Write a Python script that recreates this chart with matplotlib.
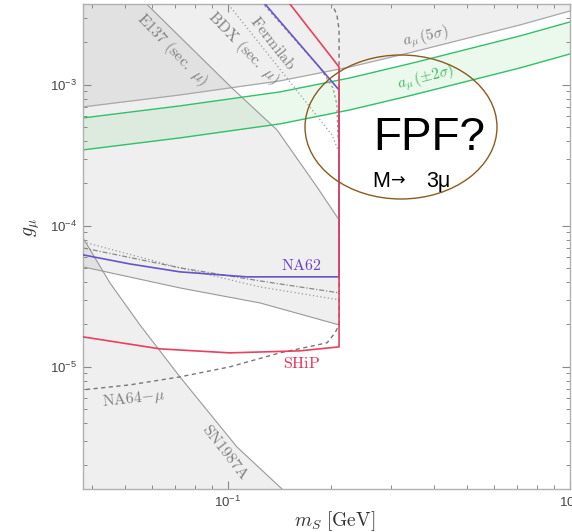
import matplotlib
matplotlib.use('Agg')
import matplotlib.pyplot as plt
from matplotlib.patches import Ellipse
from matplotlib.ticker import LogLocator, NullFormatter

plt.rcParams['font.family'] = ['Liberation Sans', 'DejaVu Sans']
plt.rcParams['mathtext.fontset'] = 'cm'

# ---------------- data (m_S in GeV, g_mu) ----------------
XLIM = (0.0377, 1.0)
YLIM = (1.36e-6, 3.75e-3)
M_THR = 0.2113  # 2 m_mu

# g-2 curves
amu_m = [0.0377, 0.0724, 0.1419, 0.2274, 0.3475, 0.7142, 1.0]
amu5_g = [6.98e-4, 8.49e-4, 1.068e-3, 1.341e-3, 1.714e-3, 2.664e-3, 3.347e-3]
band_hi = [5.83e-4, 7.10e-4, 8.92e-4, 1.121e-3, 1.432e-3, 2.226e-3, 2.797e-3]
band_lo = [3.46e-4, 4.21e-4, 5.29e-4, 6.65e-4, 8.49e-4, 1.320e-3, 1.659e-3]

# E137 (sec. mu) region boundaries
e137_up_m = [0.0575, 0.1034, 0.1391, 0.1821, M_THR]
e137_up_g = [3.8e-3, 9.37e-4, 4.80e-4, 1.890e-4, 1.103e-4]
e137_lo_m = [0.0377, 0.0724, 0.1241, M_THR]
e137_lo_g = [5.12e-5, 3.63e-5, 2.84e-5, 1.985e-5]

# SN1987A boundary
sn_m = [0.0377, 0.0452, 0.0553, 0.0724, 0.1062, 0.1448, 0.152]
sn_g = [8.22e-5, 3.94e-5, 1.985e-5, 8.49e-6, 2.707e-6, 1.341e-6, 1.2e-6]

# SHiP projection
ship_m = [0.1384, M_THR, M_THR, 0.1624, 0.1013, 0.0633, 0.0377]
ship_g = [5.0e-3, 1.341e-3, 1.386e-5, 1.299e-5, 1.257e-5, 1.342e-5, 1.632e-5]

# NA62 projection
na62_m = [0.1159, M_THR, M_THR, 0.1136, 0.0724, 0.0517, 0.0377]
na62_g = [5.0e-3, 9.21e-4, 4.35e-5, 4.35e-5, 4.72e-5, 5.37e-5, 6.23e-5]

# NA64-mu projection
na64_m = [0.200, 0.2083, M_THR, M_THR, 0.2056, 0.1948, 0.1419, 0.1013, 0.0724, 0.0517, 0.0377]
na64_g = [3.9e-3, 3.136e-3, 2.455e-3, 1.985e-5, 1.742e-5, 1.480e-5, 1.257e-5, 1.0e-5, 8.49e-6, 7.45e-6, 6.87e-6]

# BDX (sec. mu) and Fermilab projections
bdx_m = [0.0988, 0.1487, 0.2014, 0.2098]
bdx_g = [3.9e-3, 1.121e-3, 4.42e-4, 3.46e-4]
ferm_m = [0.125, 0.1858, 0.2028, 0.2083, 0.2098]
ferm_g = [3.9e-3, 1.320e-3, 9.52e-4, 7.21e-4, 4.07e-4]

# other low-mass projections
dot_m = [0.0377, 0.0724, 0.1241, M_THR]
dot_g = [7.70e-5, 5.04e-5, 3.69e-5, 2.99e-5]
dd_m = [0.0377, 0.0724, 0.1241, M_THR]
dd_g = [6.98e-5, 5.04e-5, 4.07e-5, 3.35e-5]

# ---------------- figure ----------------
fig = plt.figure(figsize=(5.72, 5.32), dpi=100)
ax = fig.add_axes([83/572, (532-489)/532, (570-83)/572, (489-4)/532])
ax.set_xscale('log')
ax.set_yscale('log')
ax.set_xlim(*XLIM)
ax.set_ylim(*YLIM)

GFC = (0.5, 0.5, 0.5)
GA = 0.12
EDGE = '#999999'

# a_mu 5 sigma excluded
ax.fill_between(amu_m, amu5_g, [1e-2]*len(amu_m), color=GFC, alpha=GA, lw=0, zorder=1)
ax.plot(amu_m, amu5_g, color='#a8a8a8', lw=0.9, zorder=2)

# E137 region
pm = [0.03, 0.0575] + e137_up_m + e137_lo_m[::-1] + [0.03]
pg = [1e-2, 1e-2] + e137_up_g + e137_lo_g[::-1] + [e137_lo_g[0]]
ax.fill(pm, pg, color=GFC, alpha=GA, lw=0, zorder=1)
ax.plot(e137_up_m, e137_up_g, color=EDGE, lw=0.8, zorder=2)
ax.plot(e137_lo_m, e137_lo_g, color=EDGE, lw=0.8, zorder=2)

# SN1987A region
sm = [0.03] + sn_m + [0.03]
sg = [sn_g[0]] + sn_g + [sn_g[-1]]
ax.fill(sm, sg, color=GFC, alpha=GA, lw=0, zorder=1)
ax.plot(sn_m, sn_g, color=EDGE, lw=0.8, zorder=2)

# g-2 band
ax.fill_between(amu_m, band_lo, band_hi, color='#5fd36f', alpha=0.13, lw=0, zorder=1.5)
ax.plot(amu_m, band_hi, color='#2fc06a', lw=1.0, zorder=2)
ax.plot(amu_m, band_lo, color='#2fc06a', lw=1.0, zorder=2)

# projections
ax.plot(bdx_m, bdx_g, color='#999999', lw=0.9, ls=(0, (1, 2)), zorder=2)
ax.plot(ferm_m, ferm_g, color='#999999', lw=0.9, ls=(0, (2, 2)), zorder=2)
ax.plot(dot_m, dot_g, color='#999999', lw=0.9, ls=(0, (1, 2)), zorder=2)
ax.plot(dd_m, dd_g, color='#888888', lw=0.9, ls=(0, (4, 1.5, 1, 1.5)), zorder=2)
ax.plot(na64_m, na64_g, color='#777777', lw=1.0, ls=(0, (3, 2.5)), zorder=2.5)
ax.plot(na62_m, na62_g, color='#6a52c8', lw=1.2, zorder=3)
ax.plot(ship_m, ship_g, color='#e8405e', lw=1.2, zorder=3.2)

# ---------------- axes styling ----------------
for s in ax.spines.values():
    s.set_color('#b0b0b0')
    s.set_linewidth(1.0)
ax.xaxis.set_minor_formatter(NullFormatter())
ax.yaxis.set_minor_formatter(NullFormatter())
ax.xaxis.set_minor_locator(LogLocator(base=10, subs=range(2, 10)))
ax.yaxis.set_minor_locator(LogLocator(base=10, subs=range(2, 10)))
ax.tick_params(which='both', direction='in', top=True, right=True,
               color='#888888', labelcolor='#444444', labelsize=9.5)
ax.tick_params(which='major', length=5.5, width=0.8, pad=4)
ax.tick_params(which='minor', length=3.2, width=0.7)

# ---------------- labels ----------------
def px(xp, yp):
    return ((xp - 83) / 487, (489 - yp) / 485)

GRAY = '#808080'
labels = [
    (r'$\mathrm{E137\ (sec.\ \mu)}$', 172, 50, -46, GRAY, 11.5),
    (r'$\mathrm{BDX\ (sec.\ \mu)}$', 243, 48, -46, GRAY, 11.5),
    (r'$\mathrm{Fermilab}$', 273, 43, -52, GRAY, 11.5),
    (r'$a_\mu\,(5\sigma)$', 426, 37, 12, GRAY, 11),
    (r'$a_\mu\,(\pm 2\sigma)$', 426, 78, 14, '#3cb85a', 11),
    (r'$\mathrm{NA62}$', 302, 266, 0, '#6a3fc8', 11.5),
    (r'$\mathrm{SHiP}$', 302, 363, 0, '#e8305a', 11.5),
    (r'$\mathrm{NA64{-}}\mu$', 134, 399, 6, GRAY, 11.5),
    (r'$\mathrm{SN1987A}$', 226, 452, -52, GRAY, 11.5),
]
for t, xp, yp, rot, c, fs in labels:
    x, y = px(xp, yp)
    ax.text(x, y, t, transform=ax.transAxes, rotation=rot, color=c, fontsize=fs,
            ha='center', va='center', rotation_mode='anchor', zorder=4)

# annotation
cx, cy = px(401, 127)
ax.add_patch(Ellipse((cx, cy), 192/487, 144/485, transform=ax.transAxes, fill=False,
                     ec='#8b5a1e', lw=1.0, zorder=5, clip_on=False))
x, y = px(373, 150)
ax.text(x, y, 'FPF?', transform=ax.transAxes, fontsize=33, color='black',
        ha='left', va='baseline', zorder=6)
x, y = px(372, 187)
ax.text(x, y, 'M', transform=ax.transAxes, fontsize=15.5, color='black',
        ha='left', va='baseline', zorder=6)
x, y = px(391, 186)
ax.text(x, y, '\u2192', transform=ax.transAxes, fontsize=12.5, color='black',
        family='DejaVu Sans', ha='left', va='baseline', zorder=6)
x, y = px(426, 187)
ax.text(x, y, '3\u03bc', transform=ax.transAxes, fontsize=15.5, color='black',
        ha='left', va='baseline', zorder=6)

fig.text(335/572, (532-521)/532, r'$m_S\ [\mathrm{GeV}]$', ha='center', va='center',
         fontsize=14, color='#333333')
fig.text(32/572, (532-227)/532, r'$g_\mu$', rotation=90, ha='center', va='center',
         fontsize=14, color='#333333')

fig.savefig('out.png', dpi=100)
